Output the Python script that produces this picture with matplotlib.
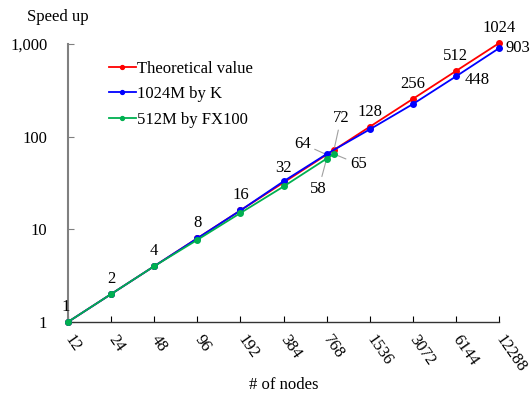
import matplotlib
matplotlib.use("Agg")
import matplotlib.pyplot as plt
from matplotlib.ticker import FixedLocator, FixedFormatter, NullLocator

plt.rcParams['font.family'] = ['Liberation Serif', 'DejaVu Serif']

nodes = [12, 24, 48, 96, 192, 384, 768, 1536, 3072, 6144, 12288]
tick_labels = [str(n) for n in nodes]

theo_x = [12, 24, 48, 96, 192, 384, 768, 864, 1536, 3072, 6144, 12288]
theo_y = [1, 2, 4, 8, 16, 32, 64, 72, 128, 256, 512, 1024]

k_x = [12, 24, 48, 96, 192, 384, 768, 1536, 3072, 6144, 12288]
k_y = [1, 2, 4, 8, 16, 33, 65, 120, 225, 448, 903]

fx_x = [12, 24, 48, 96, 192, 384, 768, 864]
fx_y = [1, 2, 4, 7.7, 15, 29, 58, 65]

fig = plt.figure(figsize=(5.32, 3.94), dpi=100)
ax = fig.add_axes([0.128, 0.183, 0.810, 0.705])

red = '#ff0000'
blue = '#0000ff'
green = '#00b050'

ax.plot(theo_x, theo_y, '-o', color=red, lw=1.3, ms=4, label='Theoretical value', clip_on=False, zorder=3)
ax.plot(k_x, k_y, '-o', color=blue, lw=1.3, ms=4, label='1024M by K', clip_on=False, zorder=4)
ax.plot(fx_x, fx_y, '-o', color=green, lw=1.3, ms=4, label='512M by FX100', clip_on=False, zorder=5)

ax.set_xscale('log', base=2)
ax.set_yscale('log')
ax.set_xlim(12, 12288)
ax.set_ylim(1, 1000)

ax.xaxis.set_major_locator(FixedLocator(nodes))
ax.xaxis.set_major_formatter(FixedFormatter(tick_labels))
ax.xaxis.set_minor_locator(NullLocator())
ax.yaxis.set_major_locator(FixedLocator([1, 10, 100, 1000]))
ax.yaxis.set_major_formatter(FixedFormatter(['1', '10', '100', '1,000']))
ax.yaxis.set_minor_locator(NullLocator())

fs = 12
ax.tick_params(axis='both', direction='in', length=4, labelsize=fs, colors='black')
ax.tick_params(axis='y', color='#808080', pad=15)
ax.tick_params(axis='x', pad=11)
for lab in ax.get_xticklabels():
    lab.set_rotation(-55)
    lab.set_rotation_mode('anchor')
    lab.set_ha('left')
    lab.set_va('center')

for s in ['top', 'right']:
    ax.spines[s].set_visible(False)
ax.spines['left'].set_color('#808080')
ax.spines['left'].set_linewidth(1.5)
ax.spines['bottom'].set_color('#333333')
ax.spines['bottom'].set_linewidth(1.0)

ax.set_xlabel('# of nodes', fontsize=fs, labelpad=1)
fig.text(0.109, 0.958, 'Speed up', fontsize=fs, ha='center', va='center')

# theoretical labels
for x, y in zip(theo_x, theo_y):
    if x in (768, 864):
        continue
    dx = -2 if x == 12 else 0
    ax.annotate(str(y), (x, y), xytext=(dx, 7), textcoords='offset pixels',
                ha='center', va='bottom', fontsize=fs, annotation_clip=False)

lc = '#a0a0a0'
ax.annotate('64', (768, 64), xytext=(-16, 11), textcoords='offset pixels',
            ha='right', va='center', fontsize=fs,
            arrowprops=dict(arrowstyle='-', color=lc, lw=0.8, shrinkA=1, shrinkB=2))
ax.annotate('72', (864, 72), xytext=(7, 24), textcoords='offset pixels',
            ha='center', va='bottom', fontsize=fs,
            arrowprops=dict(arrowstyle='-', color=lc, lw=0.8, shrinkA=1, shrinkB=2))
ax.annotate('58', (768, 58), xytext=(-8, -22), textcoords='offset pixels',
            ha='center', va='top', fontsize=fs,
            arrowprops=dict(arrowstyle='-', color=lc, lw=0.8, shrinkA=1, shrinkB=2))
ax.annotate('65', (864, 65), xytext=(16, -10), textcoords='offset pixels',
            ha='left', va='center', fontsize=fs,
            arrowprops=dict(arrowstyle='-', color=lc, lw=0.8, shrinkA=1, shrinkB=2))

ax.annotate('903', (12288, 903), xytext=(6, 0), textcoords='offset pixels',
            ha='left', va='center', fontsize=fs, annotation_clip=False)
ax.annotate('448', (6144, 448), xytext=(9, -4), textcoords='offset pixels',
            ha='left', va='center', fontsize=fs, annotation_clip=False)

leg = ax.legend(loc='upper left', bbox_to_anchor=(0.06, 0.995), frameon=False,
                fontsize=fs, handlelength=1.6, handletextpad=0.1, labelspacing=0.58,
                markerscale=0.7)

fig.savefig('out.png', dpi=100)
